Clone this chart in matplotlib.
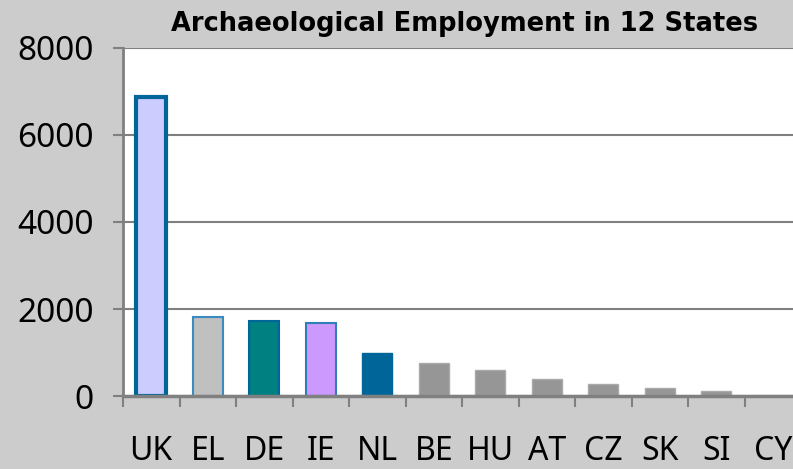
import numpy as np
import matplotlib.pyplot as plt

plt.rcParams['font.family'] = ['Noto Sans', 'DejaVu Sans']

# data
states = ["UK", "EL", "DE", "IE", "NL", "BE", "HU", "AT", "CZ", "SK", "SI", "CY"]
employed = [6865, 1820, 1725, 1680, 990, 750, 590, 385, 275, 180, 120, 0]
fills = ["#CCCCFF", "#C0C0C0", "#008080", "#CC99FF", "#006699",
         "#969696", "#969696", "#969696", "#969696", "#969696", "#969696", "#969696"]
edges = ["#006699", "#3A8CC0", "#006699", "#2E7FB5", "#006699",
         "#AAAAAA", "#AAAAAA", "#AAAAAA", "#AAAAAA", "#AAAAAA", "#AAAAAA", "#AAAAAA"]
edge_w = [3, 1.5, 1.5, 1.5, 1, 1, 1, 1, 1, 1, 1, 1]
yticks = [0, 2000, 4000, 6000, 8000]

fig = plt.figure(figsize=(7.93, 4.69), dpi=100, facecolor="#CCCCCC")
ax = fig.add_axes([123 / 793, 73 / 469, 678 / 793, 348 / 469])
ax.set_facecolor("white")

x = np.arange(len(states))
ax.bar(x, employed, width=0.53, color=fills, edgecolor=edges, linewidth=edge_w, zorder=3)

ax.set_xlim(-0.5, len(states) - 0.5)
ax.set_ylim(0, 8000)
ax.set_yticks(yticks)
ax.set_yticklabels([str(v) for v in yticks], fontsize=24)
ax.yaxis.grid(True, color="#808080", linewidth=1.5, zorder=0)

# category labels in the middle, tick marks at the boundaries
ax.set_xticks(x)
ax.set_xticklabels(states, fontsize=23)
ax.set_xticks(np.arange(-0.5, len(states), 1), minor=True)
ax.tick_params(axis="x", which="major", length=0, pad=28)
ax.tick_params(axis="x", which="minor", length=8, width=1.5, color="#808080")
ax.tick_params(axis="y", length=7, width=1.5, color="#808080", pad=14)

for s in ["top", "right"]:
    ax.spines[s].set_visible(False)
ax.spines["left"].set_color("#808080")
ax.spines["left"].set_linewidth(2)
ax.spines["bottom"].set_color("#808080")
ax.spines["bottom"].set_linewidth(2.5)
ax.spines["bottom"].set_zorder(4)

fig.text(465 / 793, 1 - 24 / 469, "Archaeological Employment in 12 States",
         ha="center", va="center", fontsize=18.5, fontweight="bold",
         family="DejaVu Sans")

fig.savefig("out.png", dpi=100, facecolor=fig.get_facecolor())
